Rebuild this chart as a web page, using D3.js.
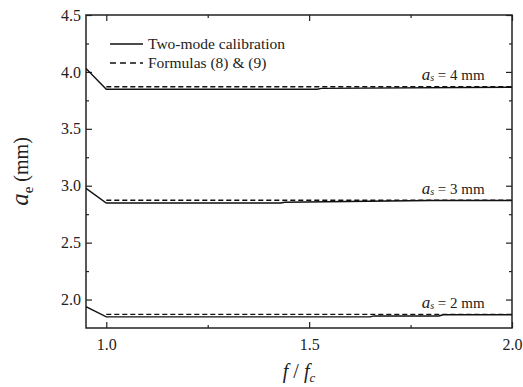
<!DOCTYPE html>
<html>
<head>
<meta charset="utf-8">
<script src="https://cdn.jsdelivr.net/npm/d3@7"></script>
<style>
  body { margin: 0; background: #fff; }
  text { font-family: 'Liberation Serif', 'Times New Roman', Times, serif !important; }
</style>
</head>
<body>
<div id="chart"></div>
<script>
// f/fc values and a_e (mm) for each curve
const fTwoMode4 = [0.95, 1.0, 1.52, 1.53, 2.0];
const aeTwoMode4 = [4.03, 3.848, 3.848, 3.855, 3.865];
const fTwoMode3 = [0.95, 1.0, 1.43, 1.44, 1.8, 2.0];
const aeTwoMode3 = [2.977, 2.848, 2.848, 2.855, 2.87, 2.87];
const fTwoMode2 = [0.95, 1.0, 1.65, 1.66, 1.82, 1.83, 2.0];
const aeTwoMode2 = [1.937, 1.848, 1.848, 1.856, 1.856, 1.866, 1.866];
const fFormula = [1.0, 2.0];
const aeFormula4 = [3.87, 3.87];
const aeFormula3 = [2.872, 2.872];
const aeFormula2 = [1.87, 1.87];
const curveLabels = ['4', '3', '2'];
const labelAe = [3.93, 2.93, 1.93];

const xMajor = [1.0, 1.5, 2.0];
const xMinor = [1.25, 1.75];
const yMajor = [2.0, 2.5, 3.0, 3.5, 4.0, 4.5];
const yMinor = [2.25, 2.75, 3.25, 3.75, 4.25];

const W = 523, H = 387;
const margin = { top: 15, right: 11, bottom: 59, left: 86 };
const width = W - margin.left - margin.right,
  height = H - margin.top - margin.bottom;

const x = d3.scaleLinear().domain([0.95, 2.0]).range([0, width]);
const y = d3.scaleLinear().domain([1.75, 4.5]).range([height, 0]);

const svg = d3.select('#chart').append('svg')
  .attr('width', W)
  .attr('height', H)
  .append('g')
  .attr('transform', `translate(${margin.left},${margin.top})`);

svg.append('defs').append('clipPath').attr('id', 'clip')
  .append('rect').attr('width', width).attr('height', height);

// inward ticks on all four sides
function tickAxis(axisFn, scale, vals, len, fmt, tr) {
  const g = svg.append('g')
    .attr('transform', tr)
    .call(axisFn(scale).tickValues(vals).tickSizeInner(-len).tickSizeOuter(0).tickFormat(fmt));
  g.select('.domain').remove();
  g.selectAll('line').attr('stroke', '#222').attr('stroke-width', 1.2);
  g.selectAll('text').attr('fill', '#222');
  return g;
}

const fmt1 = d3.format('.1f');
const bx = tickAxis(d3.axisBottom, x, xMajor, 6, fmt1, `translate(0,${height})`);
bx.selectAll('text').attr('font-size', 16).attr('dy', '1.2em');
tickAxis(d3.axisBottom, x, xMinor, 3, '', `translate(0,${height})`);
tickAxis(d3.axisTop, x, xMajor, 6, '', 'translate(0,0)');
tickAxis(d3.axisTop, x, xMinor, 3, '', 'translate(0,0)');

const ly = tickAxis(d3.axisLeft, y, yMajor, 6, fmt1, 'translate(0,0)');
ly.selectAll('text').attr('font-size', 16).attr('x', -5);
tickAxis(d3.axisLeft, y, yMinor, 3, '', 'translate(0,0)');
tickAxis(d3.axisRight, y, yMajor, 6, '', `translate(${width},0)`);
tickAxis(d3.axisRight, y, yMinor, 3, '', `translate(${width},0)`);

svg.append('rect')
  .attr('width', width).attr('height', height)
  .attr('fill', 'none').attr('stroke', '#222').attr('stroke-width', 1.5);

const line = d3.line()
  .x(d => x(d[0]))
  .y(d => y(d[1]));

const series = [
  [fTwoMode4, aeTwoMode4, null],
  [fTwoMode3, aeTwoMode3, null],
  [fTwoMode2, aeTwoMode2, null],
  [fFormula, aeFormula4, '5,3'],
  [fFormula, aeFormula3, '5,3'],
  [fFormula, aeFormula2, '5,3']
];

series.forEach(function (s) {
  svg.append('path')
    .datum(s[0].map((f, i) => [f, s[1][i]]))
    .attr('clip-path', 'url(#clip)')
    .attr('fill', 'none')
    .attr('stroke', '#111')
    .attr('stroke-width', 1.4)
    .attr('stroke-dasharray', s[2])
    .attr('d', line);
});

// curve labels: a_s = N mm
curveLabels.forEach(function (lab, i) {
  const t = svg.append('text')
    .attr('x', x(1.855))
    .attr('y', y(labelAe[i]))
    .attr('text-anchor', 'middle')
    .attr('fill', '#222')
    .attr('font-size', 15);
  t.append('tspan').attr('font-style', 'italic').attr('font-size', 17).text('a');
  t.append('tspan').attr('font-style', 'italic').attr('font-size', 10).attr('dy', 1).text('s');
  t.append('tspan').attr('dy', -1).text(' = ' + lab + ' mm');
});

// legend
const legend = [['Two-mode calibration', null], ['Formulas (8) & (9)', '6,4']];
legend.forEach(function (d, i) {
  const ly0 = 29 + i * 19;
  svg.append('line')
    .attr('x1', 24).attr('x2', 57)
    .attr('y1', ly0).attr('y2', ly0)
    .attr('stroke', '#111').attr('stroke-width', 1.4)
    .attr('stroke-dasharray', d[1]);
  svg.append('text')
    .attr('x', 62).attr('y', ly0 + 5)
    .attr('fill', '#222')
    .attr('font-size', 15.5)
    .text(d[0]);
});

// axis titles
const xt = svg.append('text')
  .attr('x', x(1.475))
  .attr('y', height + 50)
  .attr('text-anchor', 'middle')
  .attr('fill', '#222')
  .attr('font-size', 20)
  .attr('font-style', 'italic');
xt.append('tspan').text('f');
xt.append('tspan').attr('font-style', 'normal').text(' / ');
xt.append('tspan').text('f');
xt.append('tspan').attr('font-size', 13).attr('dy', 4).text('c');

const yt = svg.append('text')
  .attr('transform', `translate(${-58},${y(3.125)}) rotate(-90)`)
  .attr('text-anchor', 'middle')
  .attr('fill', '#222')
  .attr('font-size', 20);
yt.append('tspan').attr('font-style', 'italic').attr('font-size', 25).text('a');
yt.append('tspan').attr('font-size', 15).attr('dy', 5).text('e');
yt.append('tspan').attr('dy', -5).text(' (mm)');
</script>
</body>
</html>
